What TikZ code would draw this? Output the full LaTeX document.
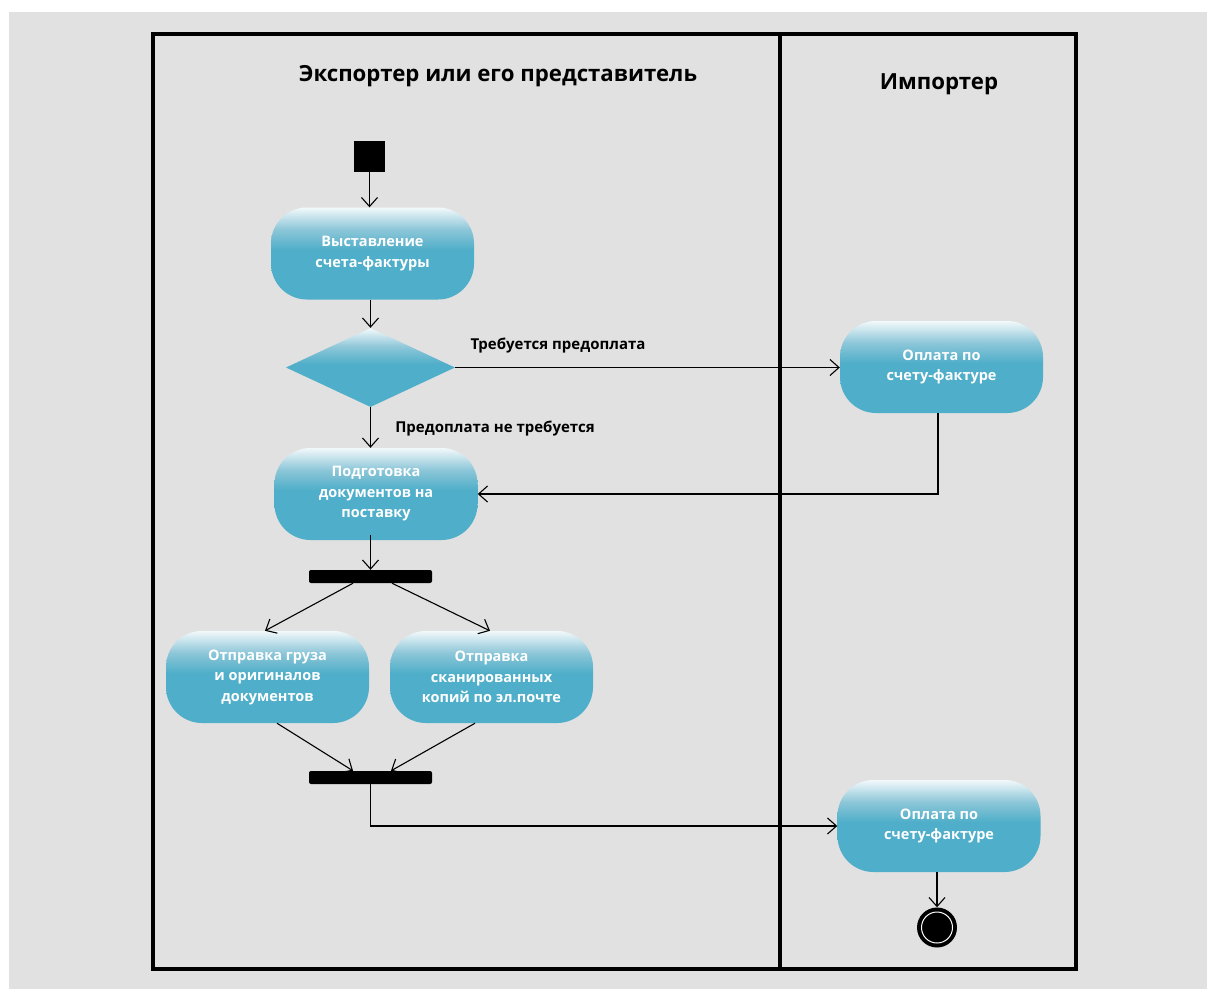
\documentclass[tikz,border=0pt]{standalone}
\usepackage{fontspec}
\setmainfont{Open Sans}
\usetikzlibrary{arrows.meta,shapes.geometric}
\definecolor{bg}{HTML}{E1E1E1}
\definecolor{actblue}{HTML}{4FAEC9}
\definecolor{actmid}{HTML}{8CC6D8}
\definecolor{acttop}{HTML}{F2F9FB}
\pgfdeclareverticalshading{actshade}{100bp}{%
  color(0bp)=(actblue); color(25bp)=(actblue); color(52bp)=(actblue);
  color(63bp)=(actmid); color(75bp)=(acttop); color(100bp)=(acttop)}
\tikzset{
  act/.style={rectangle, rounded corners=36pt, minimum width=203pt,
    minimum height=92pt, inner sep=0pt, shade, shading=actshade,
    text=white, align=center, font=\bfseries\fontsize{14.5}{20.5}\selectfont},
  decision/.style={diamond, minimum width=169pt, minimum height=79pt,
    inner sep=0pt, shade, shading=actshade},
  bar/.style={rectangle, fill=black, rounded corners=2pt,
    minimum width=123pt, minimum height=13pt, inner sep=0pt},
  initial/.style={rectangle, fill=black, minimum size=31pt, inner sep=0pt},
  flow/.style={line width=1.1pt, -{Straight Barb[length=9pt,width=16pt,line width=1.1pt]}},
  guard/.style={font=\bfseries\fontsize{15}{18}\selectfont, text=black, inner sep=0pt},
  lane/.style={font=\bfseries\fontsize{22.2}{26}\selectfont, text=black, inner sep=0pt},
  frame/.style={line width=4pt}
}
\begin{document}
\begin{tikzpicture}[x=1pt,y=-1pt]
  \useasboundingbox (0,0) rectangle (1207,989);
  \fill[white] (0,0) rectangle (1207,989);
  \fill[bg] (9,12) rectangle (1207,989);

  % swimlanes
  \draw[frame] (153,34) rectangle (1076,969);
  \draw[frame] (780,34) -- (780,969);
  \node[lane] (laneA) at (498,76) {Экспортер или его представитель};
  \node[lane] (laneB) at (939,84) {Импортер};

  % activity nodes
  \node[initial] (start) at (369.5,156.5) {};
  \node[act] (invoice) at (372.5,253.5) {Выставление\\счета-фактуры};
  \node[decision] (prepay) at (370.5,367.5) {};
  \node[act] (payA) at (941.5,367) {Оплата по\\счету-фактуре};
  \node[act] (prepare) at (376,494) {Подготовка\\документов на\\поставку};
  \node[bar] (fork) at (370.5,576.5) {};
  \node[act] (ship) at (267.5,677) {Отправка груза\\и оригиналов\\документов};
  \node[act] (scan) at (491.5,677) {Отправка\\сканированных\\копий по эл.почте};
  \node[bar] (join) at (370.5,777.5) {};
  \node[act] (payB) at (939,826) {Оплата по\\счету-фактуре};
  \node[circle, fill=black, minimum size=40pt, inner sep=0pt] (final) at (937,927.5) {};
  \node[circle, fill=black, draw=white, line width=1pt, minimum size=31pt, inner sep=0pt] (finalcore) at (final.center) {};

  % guard labels
  \node[guard] (gyes) at (558,346) {Требуется предоплата};
  \node[guard] (gno) at (495,429) {Предоплата не требуется};

  % control flow
  \draw[flow] (start.south) -- (start.south |- invoice.north);
  \draw[flow] (prepay.north |- invoice.south) -- (prepay.north);
  \draw[flow] (prepay.east) -- (prepay.east -| payA.west);
  \draw[flow] (prepay.south) -- (prepay.south |- prepare.north);
  \draw[flow] ([xshift=-3.5pt]payA.south) |- (prepare.east);
  \draw[flow] (fork.north -| prepay.south) ++(0,-35) -- (fork.north -| prepay.south);
  \draw[flow] ([xshift=-17.5pt]fork.south) -- ([xshift=-2.5pt]ship.north);
  \draw[flow] ([xshift=21.5pt]fork.south) -- ([xshift=-1.5pt]scan.north);
  \draw[flow] ([xshift=9.5pt]ship.south) -- ([xshift=-17.5pt]join.north);
  \draw[flow] ([xshift=-16.5pt]scan.south) -- ([xshift=20.5pt]join.north);
  \draw[flow] (join.south -| prepay.south) |- (payB.west);
  \draw[flow] (payB.south -| final.north) -- (final.north);
\end{tikzpicture}
\end{document}
